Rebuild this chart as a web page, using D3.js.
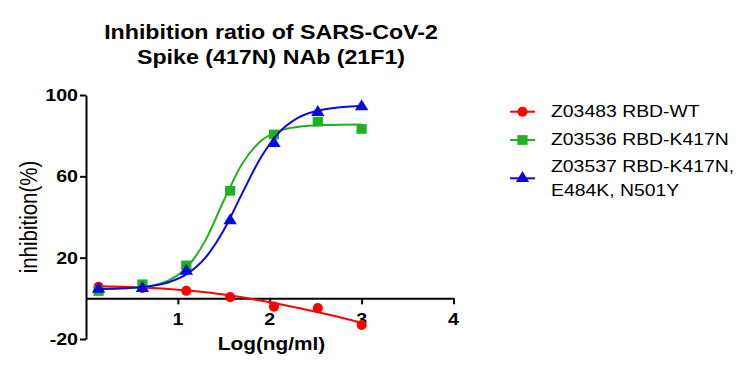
<!DOCTYPE html>
<html lang="en">
<head>
  <meta charset="UTF-8">
  <title>Inhibition ratio</title>
  <style>
  body { margin: 0; background: #fff; }
  text { font-family: "Liberation Sans", Arial, sans-serif; fill: #000; }
  .axis path, .axis line { stroke: #000; stroke-width: 2px; }
  </style>
</head>
<body>
  <script src="https://d3js.org/d3.v7.min.js"></script>
  <script type="text/javascript">

    // data
    var logConc = [0.137, 0.614, 1.092, 1.569, 2.046, 2.523, 3.0];
    var wtValues = [5.7, 5.1, 3.7, 0.6, -4.1, -4.8, -13.1];
    var k417nValues = [3.6, 6.9, 16.2, 52.9, 80.6, 86.9, 83.3];
    var tripleValues = [4.5, 4.9, 13.4, 38.2, 76.2, 91.5, 94.3];

    // fitted curves
    var fitX = [0.137, 0.4, 0.7, 0.9, 1.1, 1.3, 1.5, 1.7, 1.9, 2.1, 2.3, 2.6, 3.0];
    var wtFit = [6.0, 5.7, 5.1, 4.6, 3.9, 3.0, 1.9, 0.5, -1.1, -2.8, -4.6, -7.6, -12.0];
    var k417nFit = [4.6, 4.9, 6.1, 8.8, 15.3, 28.5, 48.1, 66.2, 77.3, 82.3, 84.3, 85.2, 85.5];
    var tripleFit = [4.6, 5.0, 6.0, 7.9, 12.0, 20.0, 33.6, 51.6, 69.0, 81.5, 88.6, 93.0, 94.6];

    var xTicks = [1, 2, 3, 4];
    var yTicks = [-20, 20, 60, 100];
    var titleLines = ["Inhibition ratio of SARS-CoV-2", "Spike (417N) NAb (21F1)"];

    var series = [
      { name: ["Z03483 RBD-WT"], values: wtValues, fit: wtFit, color: "#ff0000", shape: "circle" },
      { name: ["Z03536 RBD-K417N"], values: k417nValues, fit: k417nFit, color: "#20b020", shape: "square" },
      { name: ["Z03537 RBD-K417N,", "E484K, N501Y"], values: tripleValues, fit: tripleFit, color: "#0a0adc", shape: "triangle" }
    ];

    var width = 755;
    var height = 374;
    var sx = 1.19; // picture is stretched sideways

    var svg = d3.select("body")
        .append("svg")
          .attr("width", width)
          .attr("height", height);

    var x = d3.scaleLinear().domain([0, 4]).range([86, 453.5]);
    var y = d3.scaleLinear().domain([-20, 100]).range([339, 95]);

    function label(g, tx, ty, str, size, weight, anchor) {
      return g.append("text")
          .attr("transform", "translate(" + tx + "," + ty + ") scale(" + sx + ",1)")
          .attr("text-anchor", anchor || "start")
          .style("font-size", size + "px")
          .style("font-weight", weight || "normal")
          .text(str);
    }

    // title
    titleLines.forEach(function(t, i){
      label(svg, 271, 39 + i * 24.5, t, 19.5, "bold", "middle");
    });

    // y axis
    var yAxis = svg.append("g")
        .attr("class", "axis")
        .attr("transform", "translate(" + x(0) + ",0)")
        .call(d3.axisLeft(y).tickValues(yTicks).tickSize(6).tickSizeOuter(0).tickFormat(""));
    yTicks.forEach(function(v){
      label(svg, 78, y(v) + 6, v, 16.5, "bold", "end");
    });

    // x axis at y = 0
    var xAxis = svg.append("g")
        .attr("class", "axis")
        .attr("transform", "translate(0," + y(0) + ")")
        .call(d3.axisBottom(x).tickValues(xTicks).tickSize(6).tickSizeOuter(0).tickFormat(""));
    xTicks.forEach(function(v){
      label(svg, x(v), 325, v, 16.5, "bold", "middle");
    });

    label(svg, 271.5, 350, "Log(ng/ml)", 17.5, "bold", "middle");

    svg.append("text")
        .attr("transform", "translate(37,217) rotate(-90) scale(1," + sx + ")")
        .attr("text-anchor", "middle")
        .style("font-size", "20.5px")
        .text("inhibition(%)");

    var line = d3.line()
        .x(function(d){ return x(d[0]); })
        .y(function(d){ return y(d[1]); })
        .curve(d3.curveMonotoneX);

    var symbols = { circle: d3.symbolCircle, square: d3.symbolSquare, triangle: d3.symbolTriangle };
    var sizes = { circle: 80, square: 95, triangle: 70 };

    function marker(g, s, px, py) {
      g.append("path")
          .attr("d", d3.symbol().type(symbols[s.shape]).size(sizes[s.shape])())
          .attr("transform", "translate(" + px + "," + py + ") scale(" + (s.shape === "circle" ? 1 : 1.05) + ",1)")
          .attr("fill", s.color);
    }

    series.forEach(function(s){
      var g = svg.append("g");
      g.append("path")
          .attr("d", line(d3.zip(fitX, s.fit)))
          .attr("fill", "none")
          .attr("stroke", s.color)
          .attr("stroke-width", 2);
      logConc.forEach(function(c, i){
        marker(g, s, x(c), y(s.values[i]));
      });
    });

    // legend
    var legendRows = [111.7, 140, 178.3];
    var legendText = [[116.7], [145], [171.7, 196]];
    series.forEach(function(s, i){
      var g = svg.append("g");
      g.append("line")
          .attr("x1", 510).attr("x2", 535)
          .attr("y1", legendRows[i]).attr("y2", legendRows[i])
          .attr("stroke", s.color)
          .attr("stroke-width", 2);
      marker(g, s, 522.5, legendRows[i]);
      s.name.forEach(function(n, j){
        label(g, 551, legendText[i][j], n, 16.3, "normal", "start");
      });
    });
  </script>
</body>
</html>
